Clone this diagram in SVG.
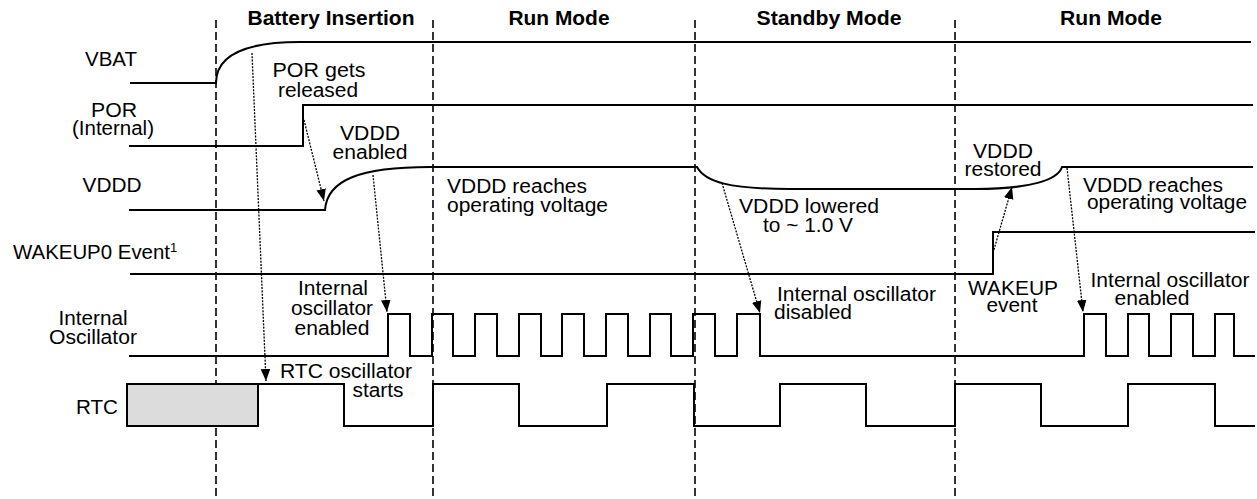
<svg xmlns="http://www.w3.org/2000/svg" width="1257" height="499" viewBox="0 0 1257 499">
<style>
text{font-family:"Liberation Sans",Arial,sans-serif;font-size:20px;fill:#000}
.h{font-weight:bold;font-size:19.5px;text-anchor:middle}
.m{text-anchor:middle}
.sig{fill:none;stroke:#000;stroke-width:2}
.div{stroke:#000;stroke-width:1.6;stroke-dasharray:8 4;fill:none}
.arr{fill:none;stroke:#000;stroke-width:1.3;stroke-dasharray:2 1.3;marker-end:url(#ah)}
</style>
<defs>
<marker id="ah" markerUnits="userSpaceOnUse" markerWidth="12" markerHeight="10" refX="10" refY="4" orient="auto" viewBox="0 0 10 8">
<path d="M0,0 L10,4 L0,8 z" fill="#000"/>
</marker>
</defs>
<rect width="1257" height="499" fill="#fff"/>
<g id="phases">
<line class="div" x1="216" y1="20" x2="216" y2="499"/>
<line class="div" x1="433" y1="20" x2="433" y2="499"/>
<line class="div" x1="695" y1="20" x2="695" y2="499"/>
<line class="div" x1="955" y1="20" x2="955" y2="499"/>
<text class="h" x="331" y="25" textLength="167" lengthAdjust="spacingAndGlyphs">Battery Insertion</text>
<text class="h" x="559" y="25" textLength="101" lengthAdjust="spacingAndGlyphs">Run Mode</text>
<text class="h" x="829" y="25" textLength="145" lengthAdjust="spacingAndGlyphs">Standby Mode</text>
<text class="h" x="1111" y="25" textLength="102" lengthAdjust="spacingAndGlyphs">Run Mode</text>
</g>
<g id="vbat">
<text class="m" x="111" y="66" textLength="52" lengthAdjust="spacingAndGlyphs">VBAT</text>
<path class="sig" d="M130,83 H216 C216,55 245,42 300,42 H1251"/>
</g>
<g id="por">
<text class="m" x="114" y="117" textLength="46" lengthAdjust="spacingAndGlyphs">POR</text>
<text class="m" x="113" y="135" textLength="82" lengthAdjust="spacingAndGlyphs">(Internal)</text>
<path class="sig" d="M129,146 H303 V105 H1253"/>
</g>
<g id="vddd">
<text class="m" x="112" y="192" textLength="59" lengthAdjust="spacingAndGlyphs">VDDD</text>
<path class="sig" d="M129,210 H325 C327,180 360,167 430,167 H697 C705,182 730,189 790,189 H975 C1030,189 1058,180 1062,167 H1253"/>
</g>
<g id="wakeup">
<text x="13" y="259"><tspan textLength="157" lengthAdjust="spacingAndGlyphs">WAKEUP0 Event</tspan><tspan font-size="13" dy="-7">1</tspan></text>
<path class="sig" d="M130,274 H993 V232 H1255"/>
</g>
<g id="osc">
<text class="m" x="93" y="325" textLength="69" lengthAdjust="spacingAndGlyphs">Internal</text>
<text class="m" x="93" y="344" textLength="88" lengthAdjust="spacingAndGlyphs">Oscillator</text>
<path class="sig" d="M129,356 H388 V314 H410 V356 H432 V314 H453 V356 H475 V314 H497 V356 H519 V314 H541 V356 H562 V314 H584 V356 H606 V314 H628 V356 H650 V314 H671 V356 H693 V314 H715 V356 H737 V314 H760 V356 H1084 V314 H1106 V356 H1128 V314 H1149 V356 H1171 V314 H1193 V356 H1215 V314 H1234 V356 H1255"/>
</g>
<g id="rtc">
<text class="m" x="97" y="414" textLength="42" lengthAdjust="spacingAndGlyphs">RTC</text>
<rect x="127" y="384" width="131" height="42" fill="#dcdcdc" stroke="#000" stroke-width="2"/>
<path class="sig" d="M258,384 H344 V426 H433 V384 H519 V426 H607 V384 H694 V426 H780 V384 H866 V426 H955 V384 H1041 V426 H1128 V384 H1215 V426 H1255"/>
</g>
<g id="notes">
<text class="m" x="319" y="77" textLength="93" lengthAdjust="spacingAndGlyphs">POR gets</text>
<text class="m" x="318" y="97" textLength="80" lengthAdjust="spacingAndGlyphs">released</text>
<text class="m" x="370" y="140" textLength="60" lengthAdjust="spacingAndGlyphs">VDDD</text>
<text class="m" x="370" y="159" textLength="75" lengthAdjust="spacingAndGlyphs">enabled</text>
<text x="447" y="193" textLength="140" lengthAdjust="spacingAndGlyphs">VDDD reaches</text>
<text x="447" y="212" textLength="161" lengthAdjust="spacingAndGlyphs">operating voltage</text>
<text class="m" x="809" y="213" textLength="140" lengthAdjust="spacingAndGlyphs">VDDD lowered</text>
<text class="m" x="808" y="232" textLength="90" lengthAdjust="spacingAndGlyphs">to ~ 1.0 V</text>
<text class="m" x="1003" y="158" textLength="60" lengthAdjust="spacingAndGlyphs">VDDD</text>
<text class="m" x="1003" y="176" textLength="77" lengthAdjust="spacingAndGlyphs">restored</text>
<text x="1083" y="192" textLength="140" lengthAdjust="spacingAndGlyphs">VDDD reaches</text>
<text x="1087" y="209" textLength="160" lengthAdjust="spacingAndGlyphs">operating voltage</text>
<text class="m" x="1013" y="295" textLength="90" lengthAdjust="spacingAndGlyphs">WAKEUP</text>
<text class="m" x="1012" y="312" textLength="51" lengthAdjust="spacingAndGlyphs">event</text>
<text class="m" x="1170" y="287" textLength="159" lengthAdjust="spacingAndGlyphs">Internal oscillator</text>
<text class="m" x="1152" y="305" textLength="75" lengthAdjust="spacingAndGlyphs">enabled</text>
<text x="777" y="301" textLength="159" lengthAdjust="spacingAndGlyphs">Internal oscillator</text>
<text x="774" y="319" textLength="78" lengthAdjust="spacingAndGlyphs">disabled</text>
<text class="m" x="333" y="295" textLength="70" lengthAdjust="spacingAndGlyphs">Internal</text>
<text class="m" x="332" y="315" textLength="82" lengthAdjust="spacingAndGlyphs">oscillator</text>
<text class="m" x="332" y="335" textLength="75" lengthAdjust="spacingAndGlyphs">enabled</text>
<text class="m" x="346" y="378" textLength="132" lengthAdjust="spacingAndGlyphs">RTC oscillator</text>
<text class="m" x="378" y="397" textLength="51" lengthAdjust="spacingAndGlyphs">starts</text>
</g>
<g id="connectors">
<line class="arr" x1="252" y1="53" x2="266" y2="381"/>
<line class="arr" x1="304" y1="120" x2="324" y2="201"/>
<line class="arr" x1="373" y1="175" x2="387" y2="312"/>
<line class="arr" x1="722" y1="183" x2="760" y2="313"/>
<line class="arr" x1="993" y1="253" x2="1012" y2="187"/>
<line class="arr" x1="1067" y1="168" x2="1083" y2="312"/>
</g>
</svg>
